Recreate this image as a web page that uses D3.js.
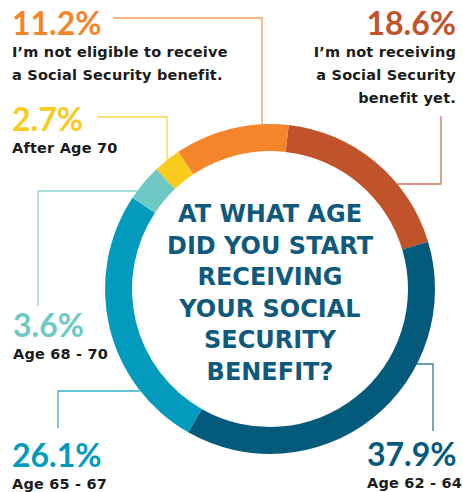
<!DOCTYPE html>
<html>
<head>
<meta charset="utf-8">
<script src="https://cdn.jsdelivr.net/npm/d3@7"></script>
<style>
  body { margin: 0; background: #fff; }
  text { font-family: Lato, "Open Sans", sans-serif; }
  .caption, .title { font-family: "DejaVu Sans", Verdana, sans-serif; }
</style>
</head>
<body>
<script>
// chart data
var categories = ["Not receiving yet", "Age 62 - 64", "Age 65 - 67", "Age 68 - 70", "After Age 70", "Not eligible"];
var values = [18.6, 37.9, 26.1, 3.6, 2.7, 11.2];
var valueLabels = ["18.6%", "37.9%", "26.1%", "3.6%", "2.7%", "11.2%"];
var captions = [
  ["I\u2019m not receiving", "a Social Security", "benefit yet."],
  ["Age 62 - 64"],
  ["Age 65 - 67"],
  ["Age 68 - 70"],
  ["After Age 70"],
  ["I\u2019m not eligible to receive", "a Social Security benefit."]
];
var titleLines = ["AT WHAT AGE", "DID YOU START", "RECEIVING", "YOUR SOCIAL", "SECURITY", "BENEFIT?"];

var colors = ["#c1532a", "#045a7b", "#029bbd", "#6ec9c4", "#f8cb1c", "#f4852a"];

var width = 463, height = 492;
var cx = 270, cy = 289;
var outerR = 165, innerR = 138;
var startAngle = 6.5 * Math.PI / 180;

// where each label sits, and how its leader line runs to the ring
var labelPos = [
  { x: 456, y: 35, anchor: "end", path: [[441, 116], [441, 184]], end: "x" },
  { x: 367, y: 466, anchor: "start", path: [[433, 431], [433, 364]], end: "x", r: 148 },
  { x: 12, y: 467, anchor: "start", path: [[58, 428], [58, 391]], end: "x" },
  { x: 13, y: 337, anchor: "start", path: [[38, 306], [38, 191]], end: "x" },
  { x: 12, y: 131, anchor: "start", path: [[97, 117], [167, 117]], end: "y" },
  { x: 12, y: 35, anchor: "start", path: [[113, 18], [262, 18]], end: "y" }
];

var svg = d3.select("body").append("svg")
  .attr("width", width)
  .attr("height", height);

var pie = d3.pie()
  .sort(null)
  .value(function (d) { return d; })
  .startAngle(startAngle)
  .endAngle(startAngle + 2 * Math.PI);

var arc = d3.arc().innerRadius(innerR).outerRadius(outerR);

var ring = svg.append("g").attr("transform", "translate(" + cx + "," + cy + ")");

ring.selectAll("path")
  .data(pie(values))
  .enter().append("path")
  .attr("d", arc)
  .attr("fill", function (d, i) { return colors[i]; });

// leader lines, last point lands on the ring
var line = d3.line();
labelPos.forEach(function (p, i) {
  var last = p.path[p.path.length - 1];
  var r = p.r || outerR;
  var pt;
  if (p.end === "y") {
    var dx = last[0] - cx;
    pt = [last[0], cy - Math.sqrt(r * r - dx * dx)];
  } else {
    var dy = last[1] - cy;
    var side = last[0] > cx ? 1 : -1;
    pt = [cx + side * Math.sqrt(r * r - dy * dy), last[1]];
  }
  svg.append("path")
    .attr("d", line(p.path.concat([pt])))
    .attr("fill", "none")
    .attr("stroke", colors[i])
    .attr("stroke-opacity", 0.8)
    .attr("stroke-width", 1.3);
});

// percentages + captions
var labels = svg.selectAll("g.label")
  .data(values)
  .enter().append("g")
  .attr("class", "label");

labels.append("text")
  .attr("x", function (d, i) { return labelPos[i].x; })
  .attr("y", function (d, i) { return labelPos[i].y; })
  .attr("text-anchor", function (d, i) { return labelPos[i].anchor; })
  .attr("font-size", 32)
  .attr("font-weight", 700)
  .attr("fill", function (d, i) { return colors[i]; })
  .text(function (d, i) { return valueLabels[i]; });

labels.each(function (d, i) {
  var g = d3.select(this);
  captions[i].forEach(function (c, j) {
    g.append("text")
      .attr("class", "caption")
      .attr("x", labelPos[i].x)
      .attr("y", labelPos[i].y + 22 + j * 23)
      .attr("text-anchor", labelPos[i].anchor)
      .attr("font-size", 14.5)
      .attr("font-weight", 700)
      .attr("letter-spacing", 0.2)
      .attr("fill", "#1b1b1b")
      .text(c);
  });
});

// centre question
svg.append("g").selectAll("text")
  .data(titleLines)
  .enter().append("text")
  .attr("class", "title")
  .attr("x", cx)
  .attr("y", function (d, i) { return 222 + i * 31.6; })
  .attr("text-anchor", "middle")
  .attr("font-size", 24)
  .attr("font-weight", 700)
  .attr("fill", "#0f5a7c")
  .text(function (d) { return d; });
</script>
</body>
</html>
